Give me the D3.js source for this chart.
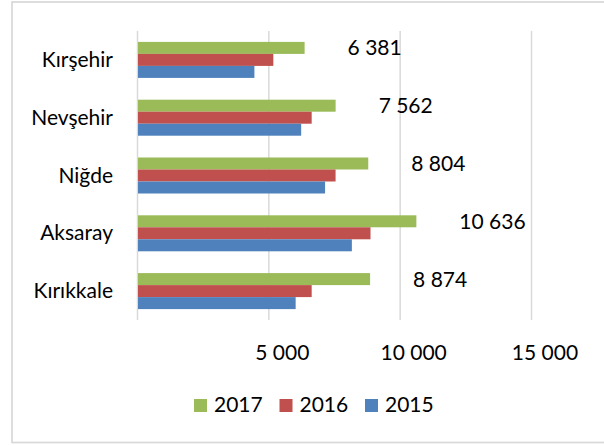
<!DOCTYPE html>
<html>
<head>
<meta charset="utf-8">
<script src="https://cdn.jsdelivr.net/npm/d3@7"></script>
<style>
  html, body { margin: 0; padding: 0; background: #fff; }
  text { font-family: Lato, "Liberation Sans", sans-serif; fill: #000; }
</style>
</head>
<body>
<div id="chart"></div>
<script>
// data
const categories = ["Kırşehir", "Nevşehir", "Niğde", "Aksaray", "Kırıkkale"];
const years = ["2017", "2016", "2015"];
const values2017 = [6381, 7562, 8804, 10636, 8874];
const values2016 = [5190, 6650, 7560, 8890, 6650];
const values2015 = [4470, 6250, 7160, 8180, 6040];
const xTicks = [0, 5000, 10000, 15000];
const colors = ["#9BBB59", "#C0504D", "#4F81BD"];

const series = [values2017, values2016, values2015];

const width = 604, height = 445;
const fontSize = 21;

const svg = d3.select("#chart")
   .append("svg")
   .attr("width", width)
   .attr("height", height);

// chart border
svg.append("rect")
   .attr("x", 12)
   .attr("y", 2)
   .attr("width", 620)
   .attr("height", 440.5)
   .attr("fill", "#fff")
   .attr("stroke", "#d9d9d9")
   .attr("stroke-width", 1.75);

const x = d3.scaleLinear()
   .domain([0, 15000])
   .range([137, 531]);

const y = d3.scaleBand()
   .domain(categories)
   .range([31, 320])
   .paddingInner(0.377)
   .paddingOuter(0.1885);

const yInner = d3.scaleBand()
   .domain(years)
   .range([0, y.bandwidth()]);

const fmt = d3.formatLocale({ decimal: ",", thousands: " ", grouping: [3], currency: ["", ""] }).format(",");

// gridlines + x labels
const xAxis = svg.append("g")
   .attr("transform", "translate(0,320)")
   .call(d3.axisBottom(x)
      .tickValues(xTicks)
      .tickSize(-(320 - 31))
      .tickPadding(25)
      .tickFormat(d => d === 0 ? "" : fmt(d)));

xAxis.select(".domain").remove();
xAxis.selectAll(".tick line")
   .attr("stroke", "#d9d9d9")
   .attr("stroke-width", 1.5);
xAxis.selectAll(".tick text")
   .attr("dx", 13.5)
   .style("font-family", "Lato, 'Liberation Sans', sans-serif")
   .style("font-size", fontSize + "px")
   .attr("fill", "#000");

// bars
const groups = svg.selectAll(".grp")
   .data(categories)
   .enter()
   .append("g")
   .attr("class", "grp")
   .attr("transform", d => `translate(0,${y(d)})`);

groups.selectAll("rect")
   .data((d, i) => series.map((s, j) => ({ year: years[j], value: s[i], color: colors[j] })))
   .enter()
   .append("rect")
   .attr("x", x(0) + 1)
   .attr("y", d => yInner(d.year))
   .attr("width", d => x(d.value) - x(0) - 1)
   .attr("height", yInner.bandwidth())
   .attr("fill", d => d.color);

// data labels (2017 only)
svg.selectAll(".lbl")
   .data(categories)
   .enter()
   .append("text")
   .attr("class", "lbl")
   .attr("x", (d, i) => x(values2017[i]) + 43)
   .attr("y", d => y(d) + yInner("2017") + yInner.bandwidth() / 2 + 7.5)
   .style("font-size", fontSize + "px")
   .text((d, i) => fmt(values2017[i]));

// category labels
svg.selectAll(".cat")
   .data(categories)
   .enter()
   .append("text")
   .attr("class", "cat")
   .attr("x", 113)
   .attr("y", d => y(d) + y.bandwidth() / 2 + 7)
   .attr("text-anchor", "end")
   .style("font-size", fontSize + "px")
   .text(d => d);

// legend
const legend = svg.append("g")
   .attr("transform", "translate(194,399)");

const items = legend.selectAll("g")
   .data(years)
   .enter()
   .append("g")
   .attr("transform", (d, i) => `translate(${i * 85.5},0)`);

items.append("rect")
   .attr("width", 13)
   .attr("height", 13)
   .attr("fill", (d, i) => colors[i]);

items.append("text")
   .attr("x", 20)
   .attr("y", 13)
   .style("font-size", fontSize + "px")
   .text(d => d);
</script>
</body>
</html>
